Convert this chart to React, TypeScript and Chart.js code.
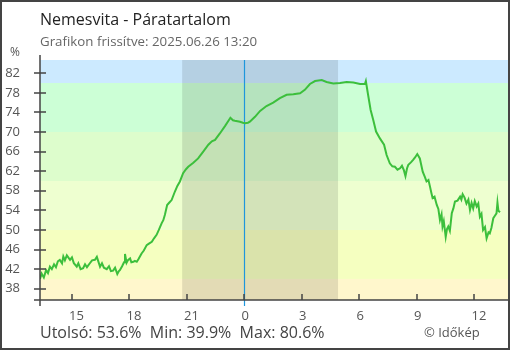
import React, { useEffect, useRef } from "react";
import { Chart, registerables } from "chart.js";

Chart.register(...registerables);

const TITLE = "Nemesvita - Páratartalom";
const SUBTITLE = "Grafikon frissítve: 2025.06.26 13:20";
const UNIT = "%";
const FOOTER_STATS = "Utolsó: 53.6%  Min: 39.9%  Max: 80.6%";
const COPYRIGHT = "© Időkép";

// minutes relative to midnight of 2025.06.26 (negative = previous day)
const minutes = [
  -640, -635, -628, -621, -615, -609, -603, -596, -590, -584, -578, -571, -567, -562, -556, -546, -540, -534,
  -525, -520, -513, -505, -499, -493, -484, -477, -468, -462, -452, -446, -440, -431, -424, -418, -411, -405,
  -398, -393, -390, -383, -377, -374, -369, -364, -358, -354, -348, -343, -337, -332, -322, -315, -306, -299,
  -290, -283, -275, -268, -259, -254, -249, -242, -235, -228, -218, -210, -202, -192, -183, -176, -160, -145,
  -129, -113, -102, -92, -77, -61, -48, -44, -36, -30, -14, -5, 2, 11, 17, 33, 49, 69, 90, 111, 132, 153, 174,
  189, 205, 221, 242, 257, 278, 299, 320, 341, 362, 377, 380, 387, 395, 403, 412, 424, 437, 445, 455, 463, 471,
  479, 487, 493, 499, 504, 509, 513, 521, 528, 534, 541, 549, 558, 565, 570, 576, 581, 585, 589, 595, 602, 607,
  612, 617, 620, 624, 630, 634, 638, 643, 649, 654, 659, 667, 675, 679, 683, 689, 695, 701, 706, 711, 716, 721,
  727, 732, 737, 742, 747, 753, 758, 764, 768, 773, 779, 784, 789, 792, 795, 800,
];

const humidity = [
  40.0, 41.1, 40.3, 41.8, 41.2, 42.5, 42.0, 43.0, 42.4, 43.6, 43.9, 43.2, 44.6, 43.8, 44.8, 43.9, 44.4, 43.2,
  42.5, 43.2, 42.0, 42.2, 43.0, 42.4, 43.2, 43.8, 43.9, 44.5, 42.5, 43.2, 42.3, 42.0, 42.6, 41.6, 41.7, 42.3,
  41.0, 41.6, 41.8, 42.6, 43.4, 45.1, 43.3, 43.9, 44.2, 43.4, 43.5, 43.7, 43.5, 44.0, 45.2, 45.8, 46.9, 47.2,
  47.6, 48.3, 49.0, 50.0, 51.4, 52.0, 53.1, 55.1, 55.6, 56.1, 57.8, 59.0, 59.9, 61.6, 62.4, 62.9, 63.7, 64.6,
  66.0, 67.4, 68.1, 68.4, 69.7, 71.2, 72.5, 72.9, 72.4, 72.3, 72.1, 71.9, 71.8, 71.9, 72.1, 73.1, 74.3, 75.3,
  76.0, 76.9, 77.6, 77.7, 77.9, 78.6, 79.8, 80.4, 80.6, 80.2, 79.9, 80.0, 80.2, 80.1, 79.8, 79.8, 80.4, 77.6,
  74.5, 72.5, 70.1, 68.7, 67.4, 65.3, 63.6, 63.0, 62.9, 62.3, 62.6, 63.1, 62.2, 61.0, 62.6, 63.3, 63.8, 64.3,
  64.8, 65.5, 64.6, 61.9, 60.8, 59.9, 60.2, 58.8, 57.6, 56.5, 56.8, 55.1, 54.3, 52.0, 53.2, 50.7, 51.8, 48.6,
  50.2, 50.7, 49.8, 53.4, 54.4, 55.8, 56.0, 56.8, 56.2, 57.3, 56.6, 55.4, 56.2, 54.1, 55.5, 54.4, 55.9, 54.8,
  55.4, 52.7, 53.3, 50.0, 50.6, 48.3, 49.5, 49.3, 50.4, 52.4, 52.9, 53.4, 55.6, 53.9, 53.6,
];

const xTickValues = [-540, -360, -180, 0, 180, 360, 540, 720];
const yTickValues = [38, 42, 46, 50, 54, 58, 62, 66, 70, 74, 78, 82];
const bandEdges = [40, 50, 60, 70, 80];
const bandColors = ["#fff7cc", "#f5ffc0", "#eeffd0", "#ddfdcc", "#ccffd6", "#cceaff"];
const NIGHT_START = -195;
const NIGHT_END = 293;
const MIDNIGHT = 0;
const X_MIN = -640;
const X_MAX = 825;
const Y_MIN = 35.7;
const Y_MAX = 84.7;

const FONT = "'Open Sans', 'Noto Sans', sans-serif";
const AXIS_COLOR = "#444";

const decorPlugin = {
  id: "decor",
  beforeDatasetsDraw(chart: any) {
    const { ctx, chartArea, scales } = chart;
    const x = scales.x;
    const y = scales.y;
    const { left, right, top, bottom } = chartArea;
    ctx.save();
    const edges = [Y_MIN, ...bandEdges, Y_MAX];
    for (let i = 0; i < bandColors.length; i++) {
      const y0 = Math.max(top, Math.min(bottom, y.getPixelForValue(edges[i])));
      const y1 = Math.max(top, Math.min(bottom, y.getPixelForValue(edges[i + 1])));
      ctx.fillStyle = bandColors[i];
      ctx.fillRect(left, y1, right - left, y0 - y1);
    }
    const nx0 = x.getPixelForValue(NIGHT_START);
    const nx1 = x.getPixelForValue(NIGHT_END);
    ctx.fillStyle = "rgba(0,0,0,0.11)";
    ctx.fillRect(nx0, top, nx1 - nx0, bottom - top);
    const mx = Math.round(x.getPixelForValue(MIDNIGHT)) + 0.5;
    ctx.strokeStyle = "#1e96dc";
    ctx.lineWidth = 1.2;
    ctx.beginPath();
    ctx.moveTo(mx, top);
    ctx.lineTo(mx, bottom + 6);
    ctx.stroke();
    ctx.restore();
  },
  afterDraw(chart: any) {
    const { ctx, chartArea, scales, width, height } = chart;
    const x = scales.x;
    const y = scales.y;
    const { left, right, top, bottom } = chartArea;
    ctx.save();
    ctx.strokeStyle = AXIS_COLOR;
    ctx.lineWidth = 1.5;
    ctx.beginPath();
    ctx.moveTo(left, top - 5);
    ctx.lineTo(left, bottom + 6);
    ctx.moveTo(left - 6, bottom);
    ctx.lineTo(right, bottom);
    ctx.stroke();
    ctx.beginPath();
    for (const v of yTickValues) {
      const py = Math.round(y.getPixelForValue(v));
      ctx.moveTo(left - 6, py);
      ctx.lineTo(left + 6, py);
    }
    for (const v of xTickValues) {
      const px = Math.round(x.getPixelForValue(v));
      ctx.moveTo(px, bottom - 6);
      ctx.lineTo(px, bottom);
    }
    ctx.stroke();
    ctx.textBaseline = "alphabetic";
    ctx.textAlign = "left";
    ctx.fillStyle = "#222";
    ctx.font = `16px ${FONT}`;
    ctx.fillText(TITLE, 40, 25);
    ctx.fillStyle = "#666";
    ctx.font = `13.3px ${FONT}`;
    ctx.fillText(SUBTITLE, 40, 46);
    ctx.fillStyle = "#555";
    ctx.font = `12px ${FONT}`;
    ctx.textAlign = "center";
    ctx.fillText(UNIT, 15, 56);
    ctx.textAlign = "left";
    ctx.fillStyle = "#444";
    ctx.font = `16px ${FONT}`;
    ctx.fillText(FOOTER_STATS, 40, 338);
    ctx.fillStyle = "#555";
    ctx.font = `13px ${FONT}`;
    ctx.fillText(COPYRIGHT, 424, 337);
    ctx.strokeStyle = "#444";
    ctx.lineWidth = 2;
    ctx.strokeRect(1, 1, width - 2, height - 2);
    ctx.restore();
  },
};

export default function App() {
  const ref = useRef<HTMLCanvasElement | null>(null);
  useEffect(() => {
    document.body.style.margin = "0";
    const canvas = ref.current;
    if (!canvas) return;
    const points = minutes.map((m, i) => ({ x: m, y: humidity[i] }));
    const chart = new Chart(canvas, {
      type: "line",
      data: {
        datasets: [
          {
            data: points,
            borderColor: "#3cbf3c",
            borderWidth: 2,
            pointRadius: 0,
            tension: 0,
            fill: false,
          },
        ],
      },
      options: {
        animation: false,
        responsive: false,
        events: [],
        layout: { padding: { top: 60, left: 0, right: 2, bottom: 0 } },
        plugins: { legend: { display: false }, tooltip: { enabled: false }, title: { display: false } },
        scales: {
          x: {
            type: "linear",
            min: X_MIN,
            max: X_MAX,
            border: { display: false },
            grid: { display: false, drawTicks: false },
            afterBuildTicks: (scale: any) => {
              scale.ticks = xTickValues.map((v) => ({ value: v }));
            },
            afterFit: (scale: any) => {
              scale.height = 50;
            },
            ticks: {
              autoSkip: false,
              maxRotation: 0,
              align: "start",
              labelOffset: -3,
              padding: 8,
              color: "#555",
              font: { family: FONT, size: 13 },
              callback: (v: any) => String((((Number(v) / 60) % 24) + 24) % 24),
            },
          },
          y: {
            type: "linear",
            min: Y_MIN,
            max: Y_MAX,
            border: { display: false },
            grid: { display: false, drawTicks: false },
            afterBuildTicks: (scale: any) => {
              scale.ticks = yTickValues.map((v) => ({ value: v }));
            },
            afterFit: (scale: any) => {
              scale.width = 40;
            },
            ticks: {
              autoSkip: false,
              padding: 20,
              color: "#555",
              font: { family: FONT, size: 13 },
            },
          },
        },
      },
      plugins: [decorPlugin],
    });
    return () => chart.destroy();
  }, []);
  return (
    <div style={{ width: 510, height: 350 }}>
      <canvas ref={ref} width={510} height={350} style={{ display: "block" }} />
    </div>
  );
}
